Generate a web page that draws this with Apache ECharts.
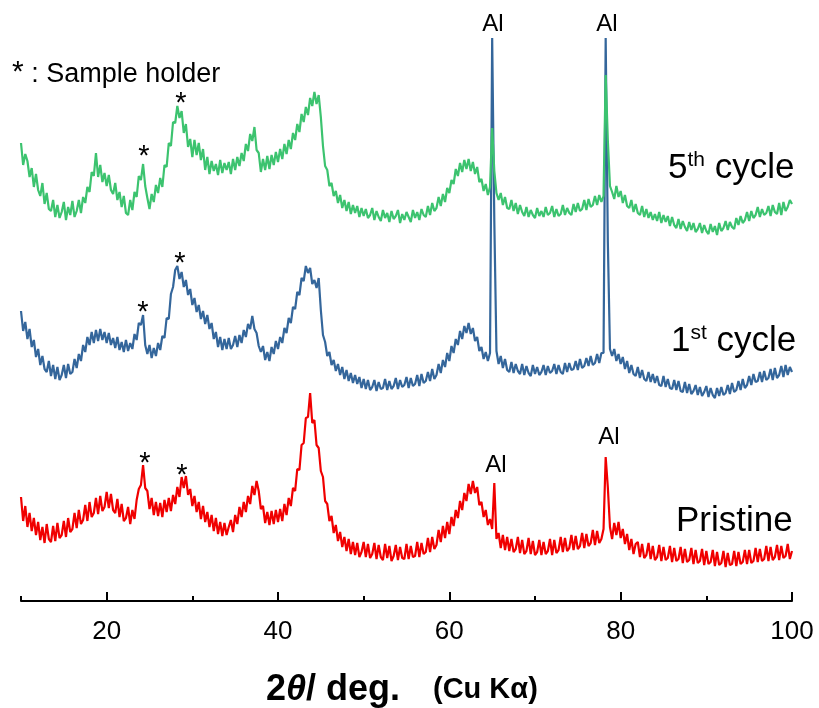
<!DOCTYPE html>
<html>
<head>
<meta charset="utf-8">
<script src="https://cdn.jsdelivr.net/npm/echarts@6/dist/echarts.min.js"></script>
<style>html,body{margin:0;padding:0;background:#fff;}#c{width:819px;height:708px;}</style>
</head>
<body>
<div id="c"></div>
<script>
// 2theta grid: 10 -> 100 deg, 0.25 deg step
const thetaStart = 10, thetaStep = 0.25, thetaCount = 361;
const twoTheta = [];
for (let i = 0; i < thetaCount; i++) twoTheta.push(+(thetaStart + thetaStep * i).toFixed(2));

const xTickLabels = [20, 40, 60, 80, 100];
const xMinorTicks = [10, 30, 50, 70, 90];

// intensities (a.u., vertically offset traces), 4 values per degree, 5 degrees per line
const cycle5 = [
458,436,447,440, 424,433,414,427, 411,405,418,397, 408,392,390,401, 384,396,383,389,
399,381,394,386, 400,384,390,401, 388,404,398,414, 409,429,425,448, 424,436,419,428,
415,426,411,407, 418,401,409,394, 405,388,386,401, 391,409,404,425, 421,437,415,403,
392,407,399,416, 408,423,414,436, 434,458,455,479, 478,495,483,490, 468,477,454,462,
444,461,446,458, 441,452,431,444, 427,440,430,437, 426,441,428,438, 431,439,427,442,
431,444,435,448, 440,457,450,467, 460,474,451,448, 429,442,431,445, 432,446,436,449,
439,452,442,457, 447,461,452,468, 461,477,469,487, 479,494,486,503, 495,509,497,506,
484,455,435,431, 415,418,405,410, 398,406,393,401, 390,399,387,396, 388,395,384,393,
385,392,383,386, 393,381,390,384, 380,391,383,388, 379,390,382,385, 391,378,387,381,
389,384,379,391, 383,389,381,392, 386,384,395,386, 398,390,393,404, 395,407,399,413,
408,421,417,432, 425,438,429,441, 432,442,430,439, 427,434,419,422, 410,417,406,414,
473,430,408,401, 408,396,404,393, 392,401,390,398, 387,396,389,385, 394,384,391,386,
383,393,385,390, 384,394,386,388, 395,384,392,385, 387,396,386,393, 388,386,397,389,
398,390,392,401, 391,402,394,396, 405,396,406,399, 405,526,461,415, 409,402,415,404,
410,398,406,395, 393,401,389,397, 388,386,395,384, 392,383,389,381, 387,380,389,378,
386,379,385,375, 384,376,373,382, 372,380,374,370, 379,371,378,369, 372,378,368,376,
370,367,377,369, 375,366,378,370, 373,380,371,379, 374,372,383,376, 385,378,381,389,
380,390,383,386, 394,384,392,386, 388,395,385,396, 389,387,398,386, 399,390,394,401,
397
];
const cycle1 = [
290,270,279,262, 272,254,261,244, 252,236,245,232, 229,240,225,236, 222,234,221,226,
236,223,237,227, 229,242,233,247, 240,256,249,264, 256,269,258,271, 260,272,261,269,
258,268,256,263, 253,264,251,259, 249,261,250,258, 252,267,261,278, 276,286,256,247,
256,243,253,245, 258,251,265,263, 283,282,307,314, 331,335,322,329, 314,321,306,312,
296,303,289,296, 282,290,277,286, 272,278,262,269, 254,264,251,262, 252,263,252,256,
265,254,266,258, 271,264,277,272, 285,272,268,255, 249,255,241,249, 240,254,247,260,
252,264,258,273, 268,283,278,294, 292,309,306,323, 320,335,328,333, 317,321,313,323,
291,266,259,245, 249,236,241,230, 237,226,234,222, 231,220,228,218, 226,217,224,213,
222,212,221,211, 214,221,210,219, 212,213,222,211, 220,212,215,223, 212,221,214,216,
224,213,223,215, 217,226,215,227, 218,220,229,220, 232,222,226,237, 228,241,234,248,
240,255,248,262, 256,270,262,275, 268,278,267,273, 260,264,250,254, 242,249,240,248,
563,380,250,237, 245,233,242,231, 229,239,228,237, 230,227,237,226, 235,228,225,236,
227,234,226,229, 236,226,235,228, 230,237,227,236, 229,227,238,229, 238,231,232,240,
231,242,233,235, 243,235,245,236, 238,247,238,248, 248,563,360,252, 245,252,240,247,
237,244,232,240, 228,236,227,225, 234,223,231,222, 220,229,219,227, 218,225,216,215,
225,214,222,213, 212,221,211,220, 210,209,219,208, 217,207,210,216, 206,214,205,209,
215,204,213,206, 203,213,205,214, 206,208,216,207, 218,209,211,220, 211,222,213,216,
225,216,227,219, 220,229,219,230, 221,223,232,221, 233,223,226,235, 224,236,226,234,
229
];
const pristine = [
104,80,95,74, 88,70,83,66, 79,61,74,58, 77,62,59,75, 60,78,63,66,
80,64,83,69, 72,88,73,91, 77,81,96,80, 99,84,88,103, 87,105,90,94,
109,93,107,91, 88,102,84,97, 80,83,94,77, 91,82,101,112, 116,136,113,110,
92,103,86,99, 85,98,84,101, 89,103,90,106, 97,114,104,124, 113,125,106,112,
95,105,89,99, 82,95,79,89, 74,86,70,83, 67,79,65,78, 66,74,81,69,
86,77,94,84, 99,89,105,97, 115,106,120,110, 92,95,78,89, 76,90,77,91,
79,92,80,97, 86,103,95,113, 110,132,131,156, 158,183,184,208, 178,181,156,153,
130,124,100,97, 80,85,68,76, 60,69,54,64, 50,62,47,59, 46,58,44,49,
59,44,57,43, 47,58,42,56, 44,41,57,43, 55,40,45,56, 41,54,43,42,
57,42,55,44, 45,59,44,58, 47,49,63,49, 64,52,56,71, 59,75,63,79,
67,84,75,91, 83,100,91,108, 100,117,107,120, 108,114,96,99, 84,91,76,82,
72,118,62,68, 53,66,51,64, 50,62,49,52, 64,48,61,47, 50,63,47,60,
46,49,61,46, 59,47,50,62, 46,61,48,51, 64,49,63,50, 53,66,51,65,
52,55,68,53, 67,55,58,71, 56,70,58,62, 72,144,114,74, 62,78,66,79,
63,72,57,67, 51,62,47,57, 59,44,57,43, 46,58,42,55, 41,44,56,40,
54,41,43,55, 39,53,40,42, 54,38,52,39, 41,53,37,51, 38,40,52,36,
50,37,39,51, 35,49,36,38, 50,34,48,36, 37,50,35,49, 37,39,51,37,
51,38,40,53, 39,52,40,42, 55,40,54,41, 44,56,41,55, 43,45,57,42,
50
];

const seriesNames = ['Pristine', '1st cycle', '5th cycle'];
const seriesColors = ['#f00000', '#34669b', '#3cc36f'];
const seriesValues = [pristine, cycle1, cycle5];

const pair = vals => twoTheta.map((t, i) => [t, vals[i]]);
const FONT = 'Liberation Sans, Arial, sans-serif';

const chart = echarts.init(document.getElementById('c'), null, {renderer: 'canvas'});

const texts = [];
function txt(x, y, text, size, style) {
  texts.push({
    type: 'text', x: x, y: y, z: 100, silent: true,
    style: Object.assign({text: text, fontSize: size, fontFamily: FONT, fill: '#000',
      align: 'center', verticalAlign: 'middle'}, style || {})
  });
}
// legend note
txt(12, 72, '{a|*}{n| : Sample holder}', 27, {align: 'left', rich: {
  a: {fontSize: 30, fontFamily: FONT, fill: '#000', lineHeight: 32, verticalAlign: 'bottom'},
  n: {fontSize: 27, fontFamily: FONT, fill: '#000', lineHeight: 32, verticalAlign: 'bottom'}
}});
// Al labels
txt(493, 24, 'Al', 24);
txt(607, 24, 'Al', 24);
txt(496, 465, 'Al', 24);
txt(609, 437, 'Al', 24);
// sample-holder asterisks
[[181, 104], [144, 157], [180, 264], [143, 313], [145, 464], [182, 476]].forEach(p => txt(p[0], p[1], '*', 29));
// trace labels
const lblRich = {
  n: {fontSize: 35, fontFamily: FONT, lineHeight: 36, verticalAlign: 'bottom', fill: '#000'},
  s: {fontSize: 21, fontFamily: FONT, lineHeight: 36, verticalAlign: 'top', fill: '#000'}
};
txt(668, 168, '{n|5}{s|th}{n| cycle}', 35, {align: 'left', rich: lblRich});
txt(671, 341, '{n|1}{s|st}{n| cycle}', 35, {align: 'left', rich: lblRich});
txt(676, 521, '{n|Pristine}', 35, {align: 'left', rich: lblRich});
// axis title
txt(266, 688, '{b|2}{t|θ}{b|/ deg.}', 36, {align: 'left', rich: {
  b: {fontSize: 36, fontWeight: 'bold', fontFamily: FONT, lineHeight: 40, verticalAlign: 'bottom', fill: '#000'},
  t: {fontSize: 36, fontWeight: 'bold', fontStyle: 'italic', fontFamily: FONT, lineHeight: 40, verticalAlign: 'bottom', fill: '#000'}
}});
txt(433, 690, '(Cu Kα)', 29, {align: 'left', fontWeight: 'bold'});

chart.setOption({
  animation: false,
  backgroundColor: '#fff',
  grid: {left: 21, right: 27, top: 1, bottom: 107, containLabel: false},
  xAxis: [{
    type: 'value', min: 10, max: 100,
    axisLine: {show: true, lineStyle: {color: '#000', width: 2}},
    axisTick: {show: true, inside: true, length: 9, lineStyle: {color: '#000', width: 2}, customValues: xTickLabels},
    axisLabel: {show: true, customValues: xTickLabels, fontSize: 26, fontFamily: FONT, color: '#000', margin: 18},
    splitLine: {show: false}
  }, {
    type: 'value', min: 10, max: 100, position: 'bottom',
    axisLine: {show: false},
    axisTick: {show: true, inside: true, length: 5, lineStyle: {color: '#000', width: 2}, customValues: xMinorTicks},
    axisLabel: {show: false},
    splitLine: {show: false}
  }],
  yAxis: {type: 'value', min: 0, max: 600, show: false},
  series: seriesValues.map((vals, k) => ({
    name: seriesNames[k], type: 'line', data: pair(vals), xAxisIndex: 0,
    showSymbol: false, symbol: 'none', sampling: null, smooth: false,
    lineStyle: {color: seriesColors[k], width: 2.2}, itemStyle: {color: seriesColors[k]},
    emphasis: {disabled: true}, silent: true
  })),
  graphic: texts
});
</script>
</body>
</html>
